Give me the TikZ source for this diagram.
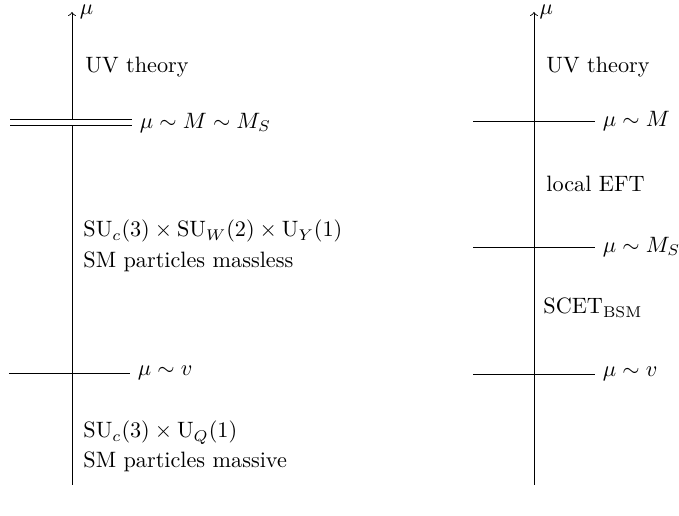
\documentclass[tikz,border=0pt]{standalone}
\usepackage{amsmath}
\begin{document}
\begin{tikzpicture}[x=0.45pt,y=-0.45pt,
  axis/.style={->,line width=0.4pt},
  scale line/.style={line width=0.4pt},
  dbl line/.style={double,double distance=2.4pt,line width=0.4pt},
  regiontext/.style={anchor=base west,inner sep=0pt},
  scalelabel/.style={anchor=west}]
\useasboundingbox (0,0) rectangle (679,516);
% left axis
\coordinate (La) at (72,485);
\coordinate (Lb) at (72,12);
\draw[axis] (La) -- (Lb) node[right] (Lmu) {$\mu$};
\coordinate (LMa) at (10,122.8);
\coordinate (LMb) at (132,122.8);
\draw[dbl line] (LMa) -- (LMb) node[scalelabel] (LMl) {$\mu\sim M\sim M_S$};
\coordinate (Lva) at (9,373);
\coordinate (Lvb) at (130,373);
\draw[scale line] (Lva) -- (Lvb) node[scalelabel] (Lvl) {$\mu\sim v$};
\node[regiontext] (Luv) at (85,73) {UV theory};
\node[regiontext] (Lg1) at (83,237) {$\mathrm{SU}_c(3)\times\mathrm{SU}_W(2)\times\mathrm{U}_Y(1)$};
\node[regiontext] (Lg2) at (83,268) {SM particles massless};
\node[regiontext] (Lq1) at (83,438) {$\mathrm{SU}_c(3)\times\mathrm{U}_Q(1)$};
\node[regiontext] (Lq2) at (83,468) {SM particles massive};
% right axis
\coordinate (Ra) at (534,485);
\coordinate (Rb) at (534,12);
\draw[axis] (Ra) -- (Rb) node[right,xshift=-1pt] (Rmu) {$\mu$};
\coordinate (RMa) at (473,121);
\coordinate (RMb) at (595,121);
\draw[scale line] (RMa) -- (RMb) node[scalelabel] (RMl) {$\mu\sim M$};
\coordinate (RSa) at (473,247);
\coordinate (RSb) at (595,247);
\draw[scale line] (RSa) -- (RSb) node[scalelabel] (RSl) {$\mu\sim M_S$};
\coordinate (Rva) at (473,374);
\coordinate (Rvb) at (595,374);
\draw[scale line] (Rva) -- (Rvb) node[scalelabel] (Rvl) {$\mu\sim v$};
\node[regiontext] (Ruv) at (546,73) {UV theory};
\node[regiontext] (Refft) at (546,192) {local EFT};
\node[regiontext] (Rscet) at (543,314) {SCET$_{\text{BSM}}$};
\end{tikzpicture}
\end{document}
